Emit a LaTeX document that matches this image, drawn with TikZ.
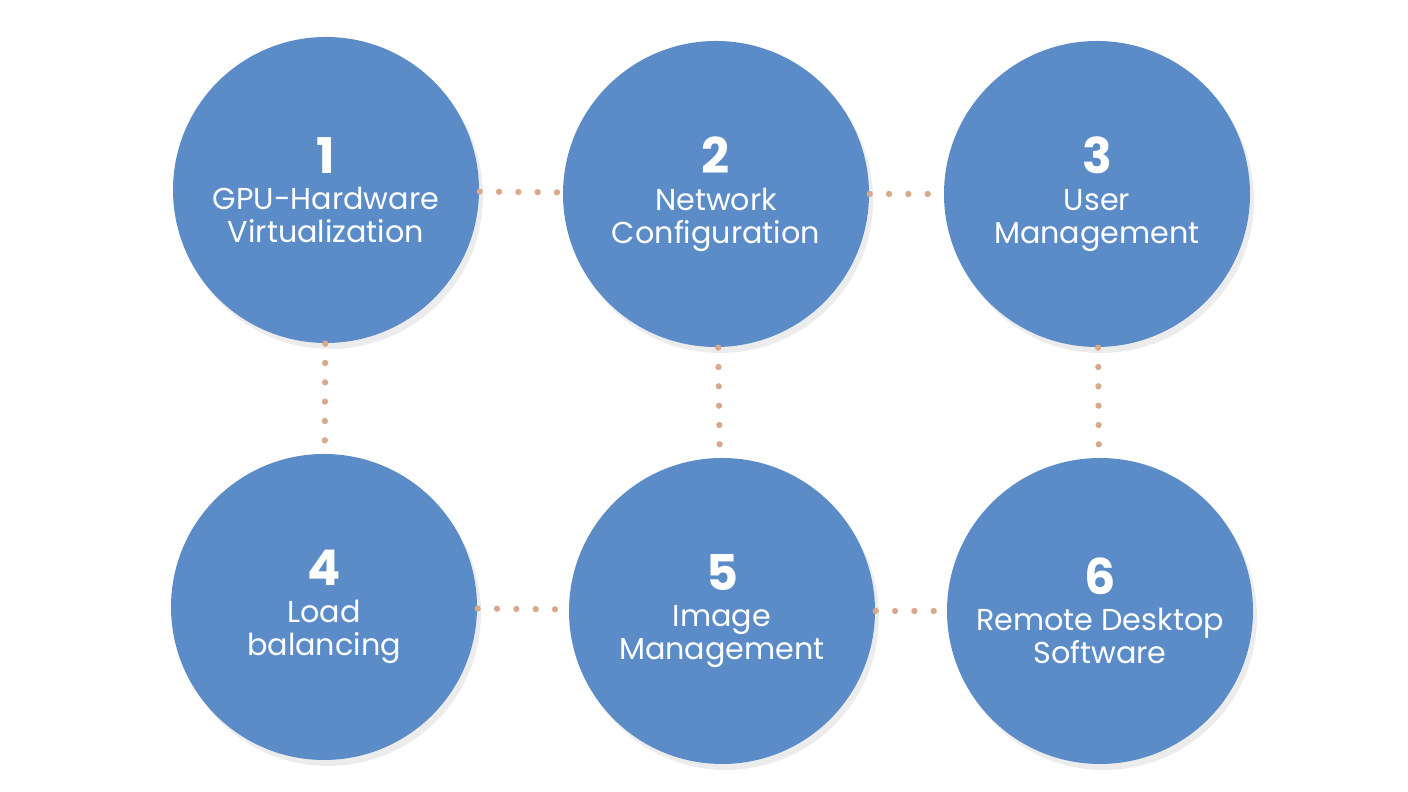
\documentclass[tikz,border=0pt]{standalone}
\usepackage{fontspec}
\setmainfont{Poppins}
\usetikzlibrary{shadows}
\definecolor{stepblue}{HTML}{5B8CC7}
\definecolor{dotline}{HTML}{D8A98C}
\begin{document}
\begin{tikzpicture}
\tikzstyle{stage} = [circle, fill=stepblue, minimum size=3.06cm, inner sep=0pt, align=center, text=white, font=\fontsize{8.6}{9.4}\selectfont, drop shadow={shadow xshift=0.4mm, shadow yshift=-0.6mm, opacity=0.15}]
\tikzstyle{link} = [draw=dotline, line width=1.8pt, line cap=round, dash pattern=on 0pt off 5.5pt]
\newcommand{\stagenum}[1]{{\fontsize{14}{16}\selectfont\bfseries #1}\\[1pt]}
\useasboundingbox (0,0) rectangle (14.08,7.92);

\node[stage] (s1) at (3.26,6.02) {\stagenum{1}GPU-Hardware\\Virtualization};
\node[stage] (s2) at (7.16,5.98) {\stagenum{2}Network\\Configuration};
\node[stage] (s3) at (10.97,5.98) {\stagenum{3}User\\Management};
\node[stage] (s4) at (3.24,1.85) {\stagenum{4}Load\\balancing};
\node[stage] (s5) at (7.22,1.81) {\stagenum{5}Image\\Management};
\node[stage] (s6) at (11.00,1.81) {\stagenum{6}Remote Desktop\\Software};

\draw[link] (s1) -- (s2);
\draw[link] (s2) -- (s3);
\draw[link] (s4) -- (s5);
\draw[link] (s5) -- (s6);
\draw[link] (s1) -- (s4);
\draw[link] (s2) -- (s5);
\draw[link] (s3) -- (s6);
\end{tikzpicture}
\end{document}
